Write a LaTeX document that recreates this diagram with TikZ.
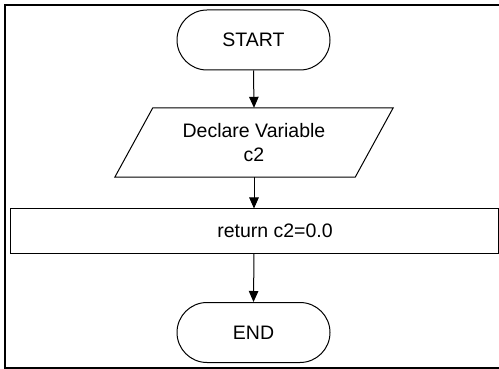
\documentclass[tikz,border=0pt]{standalone}
\usepackage{fontspec}
\setmainfont{Liberation Sans}
\usetikzlibrary{arrows.meta,calc}
\begin{document}
\begin{tikzpicture}[x=1pt,y=-1pt,
  every node/.style={font=\fontsize{19.5}{24}\selectfont, text=black, inner sep=0pt, align=center},
  term/.style={draw=black, line width=1pt, rounded corners=30pt, minimum width=153pt, minimum height=60pt},
  procbox/.style={draw=black, line width=1pt, minimum width=488pt, minimum height=44pt},
  iobox/.style={minimum width=278pt, minimum height=69pt},
  flow/.style={draw=black, line width=1pt, -{Triangle[length=11pt,width=9.5pt]}}]
\useasboundingbox (0,0) rectangle (499,369);
\draw[line width=2pt, black] (510,5) -- (5,5) -- (5,368) -- (510,368);
\node[term] (start) at (253.5,40) {START};
\node[iobox] (dv) at (254,142.5) {Declare Variable\\c2};
\draw[black, line width=1pt] (dv.south west) -- ($(dv.north west)+(38,0)$) -- (dv.north east) -- ($(dv.south east)+(-38,0)$) -- cycle;
\node[procbox] (ret) at (254,231) {};
\node (rett) at (275,231) {return c2=0.0};
\node[term] (end) at (253.5,332.5) {END};
\draw[flow] (start.south) -- (dv.north);
\draw[flow] (dv.south) -- (ret.north);
\draw[flow] (ret.south) -- (end.north);
\end{tikzpicture}
\end{document}
